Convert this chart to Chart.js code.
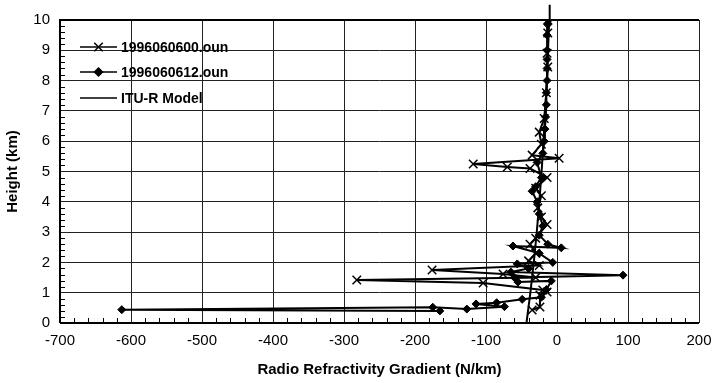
<!DOCTYPE html>
<html>
<head>
<meta charset="utf-8">
<script src="https://cdn.jsdelivr.net/npm/chart.js@4"></script>
<style>
  html, body { margin: 0; padding: 0; background: #fff; }
  #wrap { width: 712px; height: 383px; position: relative; }
</style>
</head>
<body>
<div id="wrap"><canvas id="refractChart"></canvas></div>
<script>
// 1996060600.oun (x markers)
const heights00 = [0.43, 0.53, 0.92, 1.02, 1.09, 1.32, 1.42, 1.5, 1.62, 1.75, 1.9, 2.05, 2.3, 2.6, 2.8, 3.25, 3.5, 3.8, 4.2, 4.45, 4.8, 5.1, 5.15, 5.25, 5.44, 5.54, 5.9, 6.3, 6.75, 7.6, 8.45, 8.9, 9.57, 10.0];
const gradient00 = [-35, -24, -24, -14, -20, -104, -282, -30, -76, -176, -25, -40, -30, -38, -30, -14, -22, -27, -22, -30, -14, -38, -70, -118, 3, -35, -22, -25, -18, -15, -13, -14, -13, -13];

// 1996060612.oun (diamonds)
const heights12 = [0.40, 0.44, 0.52, 0.46, 0.54, 0.63, 0.67, 0.78, 0.85, 1.1, 1.39, 1.35, 1.5, 1.58, 1.68, 1.8, 1.95, 2.0, 2.3, 2.54, 2.48, 2.6, 2.9, 3.2, 3.6, 4.0, 4.35, 4.5, 4.8, 5.3, 5.6, 6.0, 6.4, 6.8, 7.2, 7.6, 8.0, 8.4, 8.7, 9.0, 9.5, 9.85, 10.0];
const gradient12 = [-165, -613, -175, -127, -74, -114, -85, -49, -22, -15, -8, -55, -60, 93, -65, -40, -56, -6, -25, -62, 6, -13, -25, -20, -25, -28, -35, -30, -22, -28, -20, -18, -17, -16, -15, -15, -14, -14, -14, -14, -14, -13, -12];

// ITU-R Model
const heightsItu = [0, 1, 2, 3, 4, 5, 6, 7, 8, 9, 10, 10.5];
const gradientItu = [-43, -37.5, -32.7, -28.5, -24.9, -21.7, -19, -16.5, -14.4, -12.6, -11, -10.3];

const xTicks = [-700, -600, -500, -400, -300, -200, -100, 0, 100, 200];
const yTicks = [0, 1, 2, 3, 4, 5, 6, 7, 8, 9, 10];

const seriesNames = ["1996060600.oun", "1996060612.oun", "ITU-R Model"];

function toPoints(xs, hs) {
  return xs.map((v, i) => ({ x: v, y: hs[i] }));
}

const FONT = "'Liberation Sans', Arial, sans-serif";

// minor ticks, frame, legend
const extras = {
  id: "extras",
  afterDraw(chart) {
    const ctx = chart.ctx;
    const xs = chart.scales.x;
    const ys = chart.scales.y;
    const a = chart.chartArea;
    ctx.save();
    ctx.strokeStyle = "#000";
    ctx.lineWidth = 1;
    ctx.beginPath();
    for (let v = -700; v <= 200; v += 20) {
      if (v % 100 === 0) continue;
      const px = Math.round(xs.getPixelForValue(v)) + 0.5;
      ctx.moveTo(px, a.bottom);
      ctx.lineTo(px, a.bottom - 5);
    }
    for (let i = 0; i <= 50; i++) {
      if (i % 5 === 0) continue;
      const py = Math.round(ys.getPixelForValue(i * 0.2)) + 0.5;
      ctx.moveTo(a.left, py);
      ctx.lineTo(a.left + 5, py);
    }
    ctx.stroke();

    ctx.lineWidth = 2;
    ctx.beginPath();
    ctx.moveTo(a.left, a.bottom);
    ctx.lineTo(a.left, a.top);
    ctx.lineTo(a.right, a.top);
    ctx.moveTo(a.left, a.bottom);
    ctx.lineTo(a.right, a.bottom);
    ctx.stroke();

    // legend
    const rows = [47, 72, 98];
    const styles = ["crossRot", "rectRot", false];
    const radii = [6, 4, 0];
    ctx.font = "bold 14px " + FONT;
    ctx.textBaseline = "middle";
    ctx.fillStyle = "#000";
    rows.forEach((ry, i) => {
      ctx.lineWidth = 1.5;
      ctx.beginPath();
      ctx.moveTo(80, ry);
      ctx.lineTo(117, ry);
      ctx.stroke();
      if (styles[i]) {
        Chart.helpers.drawPoint(ctx, { pointStyle: styles[i], radius: radii[i], borderWidth: 1.5 }, 98.5, ry);
        if (styles[i] === "rectRot") ctx.fill();
      }
      ctx.fillText(seriesNames[i], 121, ry + 1);
    });
    ctx.restore();
  }
};

const config = {
  type: "scatter",
  data: {
    datasets: [
      {
        label: seriesNames[0],
        data: toPoints(gradient00, heights00),
        showLine: true,
        borderColor: "#000",
        backgroundColor: "#000",
        borderWidth: 2,
        pointStyle: "crossRot",
        pointRadius: 6,
        pointBorderWidth: 1.5,
        tension: 0,
      },
      {
        label: seriesNames[1],
        data: toPoints(gradient12, heights12),
        showLine: true,
        borderColor: "#000",
        backgroundColor: "#000",
        borderWidth: 2,
        pointStyle: "rectRot",
        pointRadius: 4,
        pointBorderWidth: 1,
        tension: 0,
      },
      {
        label: seriesNames[2],
        data: toPoints(gradientItu, heightsItu),
        showLine: true,
        borderColor: "#000",
        borderWidth: 2,
        pointRadius: 0,
        tension: 0,
        clip: false,
      },
    ],
  },
  options: {
    responsive: true,
    maintainAspectRatio: false,
    animation: false,
    layout: { padding: { top: 20, right: 13, left: 0, bottom: 0 } },
    plugins: {
      legend: { display: false },
      tooltip: { enabled: false },
    },
    scales: {
      x: {
        type: "linear",
        min: -700,
        max: 200,
        afterBuildTicks: (s) => { s.ticks = xTicks.map((v) => ({ value: v })); },
        afterFit: (s) => { s.height = 60; s.paddingRight = 0; },
        ticks: { color: "#000", font: { family: FONT, size: 15 }, padding: 9 },
        grid: { color: "#222", lineWidth: 1, tickLength: 0 },
        border: { display: false },
        title: {
          display: true,
          text: "Radio Refractivity Gradient (N/km)",
          color: "#000",
          font: { family: FONT, size: 15, weight: "bold" },
          padding: { top: 4 },
        },
      },
      y: {
        type: "linear",
        min: 0,
        max: 10,
        afterBuildTicks: (s) => { s.ticks = yTicks.map((v) => ({ value: v })); },
        afterFit: (s) => { s.width = 60; },
        ticks: { color: "#000", font: { family: FONT, size: 15 }, padding: 10 },
        grid: { color: "#222", lineWidth: 1, tickLength: 0 },
        border: { display: false },
        title: {
          display: true,
          text: "Height (km)",
          color: "#000",
          font: { family: FONT, size: 15, weight: "bold" },
          padding: { bottom: 4 },
        },
      },
    },
  },
  plugins: [extras],
};

const refractChart = new Chart(document.getElementById("refractChart"), config);
</script>
</body>
</html>
